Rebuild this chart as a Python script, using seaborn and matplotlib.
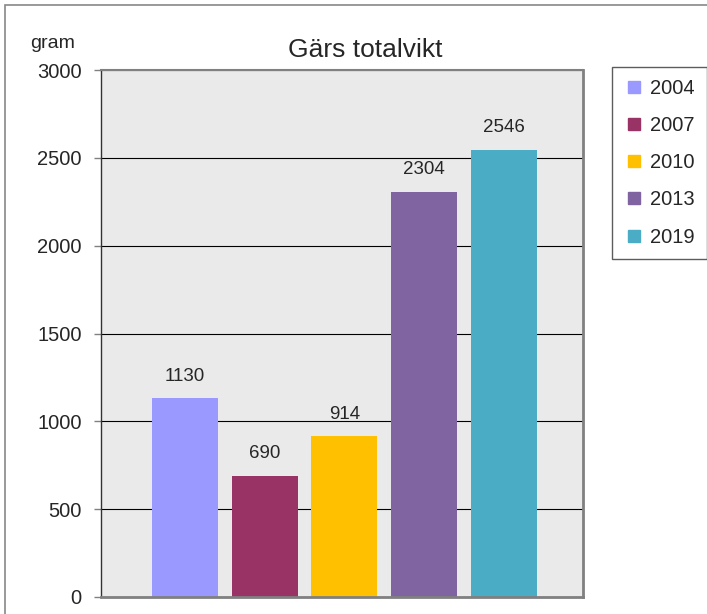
import seaborn as sns
import pandas as pd
import matplotlib.pyplot as plt
from matplotlib.lines import Line2D
from matplotlib.patches import Rectangle

# data
years = ['2004', '2007', '2010', '2013', '2019']
weights = [1130, 690, 914, 2304, 2546]
colors = ['#9999FF', '#993366', '#FFC000', '#8064A2', '#4BACC6']

data = pd.DataFrame({'year': years, 'gram': weights})

sns.set_style('white')
plt.rcParams['font.family'] = ['Liberation Sans', 'DejaVu Sans']

W, H = 707, 614
fig = plt.figure(figsize=(W / 100, H / 100), dpi=100)
ax = fig.add_axes([101 / W, 17 / H, 482 / W, 527 / H])

sns.barplot(x='year', y='gram', hue='year', data=data, palette=colors,
            dodge=False, width=0.825, saturation=1, legend=False,
            linewidth=0, ax=ax)

for cont in ax.containers:
    ax.bar_label(cont, fmt='%d', padding=10, fontsize=13.5)

ax.set_facecolor('#EAEAEA')
ax.set_xlim(-1.05, 4.99)
ax.set_ylim(0, 3000)
ax.set_yticks(range(0, 3001, 500))
ax.set_xticks([])
ax.set_xlabel('')
ax.set_ylabel('')
ax.yaxis.grid(True, color='black', linewidth=0.8)
ax.set_axisbelow(True)
ax.tick_params(axis='y', left=True, length=5, width=1, color='#808080',
               labelsize=14.5, pad=9)

ax.spines['left'].set_color('#333333')
ax.spines['left'].set_linewidth(1)
ax.spines['top'].set_color('#808080')
ax.spines['top'].set_linewidth(1.5)
ax.spines['right'].set_color('#808080')
ax.spines['right'].set_linewidth(2)
ax.spines['bottom'].set_color('#808080')
ax.spines['bottom'].set_linewidth(2)

# title and unit label
fig.text(365 / W, 1 - 57 / H, 'Gärs totalvikt', ha='center', va='baseline', fontsize=19)
fig.text(53 / W, 1 - 44 / H, 'gram', ha='center', va='center', fontsize=14)

# legend
handles = [Line2D([], [], marker='s', linestyle='', markersize=8,
                  markerfacecolor=c, markeredgecolor=c) for c in colors]
leg = fig.legend(handles, years, loc='upper left',
                 bbox_to_anchor=(612 / W, 1 - 67 / H), fontsize=14.5,
                 frameon=True, fancybox=False, edgecolor='#333333',
                 labelspacing=0.9, handlelength=1.0, handletextpad=0.3,
                 borderpad=0.6, borderaxespad=0)
leg.get_frame().set_linewidth(1)

# outer chart border
fig.patches.append(Rectangle((5 / W, -0.1), 1.2, 1.1 - 5 / H, transform=fig.transFigure,
                             fill=False, edgecolor='#888888', linewidth=1.2))

fig.savefig('out.png', dpi=100)
